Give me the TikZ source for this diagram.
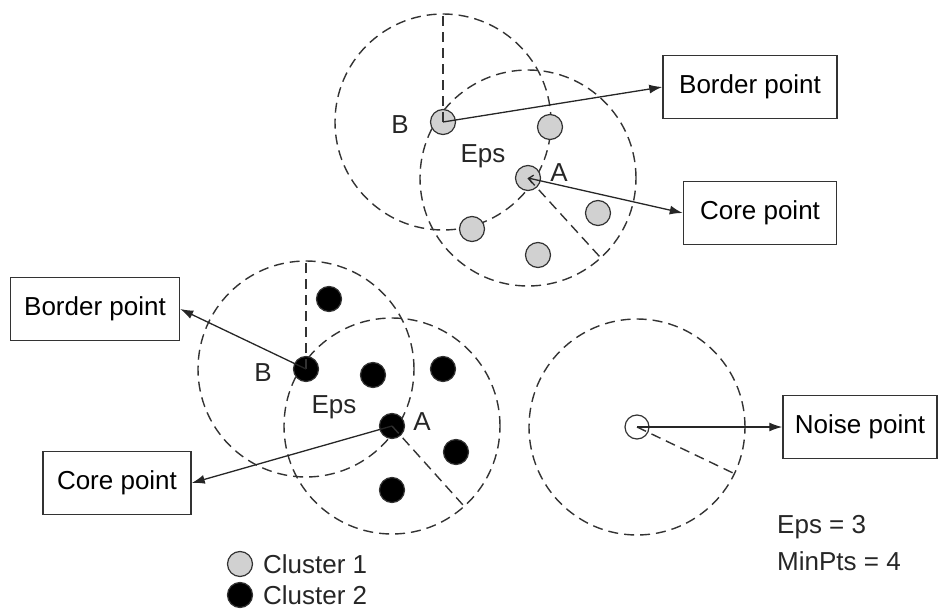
\documentclass[tikz,border=0pt]{standalone}
\usepackage{fontspec}
\setmainfont{Liberation Sans}
\usetikzlibrary{arrows.meta}

\begin{document}
\begin{tikzpicture}[x=1pt,y=-1pt,
	pt/.style={circle,draw=black!80,line width=1.2pt,inner sep=0pt,minimum size=25pt},
	grey/.style={pt,fill=black!18},
	blk/.style={pt,fill=black},
	box/.style={draw=black!80,line width=1.5pt,font=\fontsize{26}{30}\selectfont,minimum height=63pt,inner sep=0pt},
	txt/.style={font=\fontsize{26}{30}\selectfont,inner sep=0pt,text=black!85},
	eps/.style={draw=black!80,dash pattern=on 10pt off 6pt,line width=1.4pt},
	arr/.style={draw=black!85,-{Latex[length=13pt,width=9pt]},line width=1.3pt}]
	\useasboundingbox (0,0) rectangle (938,610);

	\coordinate (ctB) at (443,122);
	\coordinate (ctA) at (528,178);
	\coordinate (cbB) at (306,369);
	\coordinate (cbA) at (392,426);
	\coordinate (cn) at (637,427);
	\foreach \c in {ctB,ctA,cbB,cbA,cn}
		\draw[eps] (\c) circle[radius=108pt];

	% top cluster
	\node[grey] (tB) at (ctB) {};
	\node[grey] (tA) at (ctA) {};
	\foreach \x/\y [count=\i] in {550/127,598/213,472/229,538/255}
		\node[grey] (t\i) at (\x,\y) {};
	\draw[eps] (tB.center) -- ++(0,-108);
	\draw[eps] (tA.center) -- ++(72,79);
	\node[txt] (tBl) at (400,125) {B};
	\node[txt] (tAl) at (559,173) {A};
	\node[txt] (tEps) at (483,156) {Eps};
	\node[box,minimum width=174pt] (tBorder) at (750,87) {Border point};
	\node[box,minimum width=153pt] (tCore) at (760,213) {Core point};
	\draw[arr] (tB.center) -- (tBorder.west);
	\draw[arr,{Straight Barb[length=4pt,width=8pt]}-{Latex[length=13pt,width=9pt]}] (tA.center) -- (tCore.west);

	% bottom cluster
	\node[blk] (bB) at (cbB) {};
	\node[blk] (bA) at (cbA) {};
	\foreach \x/\y [count=\i] in {329/299,373/375,443/369,456/452,392/490}
		\node[blk] (b\i) at (\x,\y) {};
	\draw[eps] (bB.center) -- ++(0,-108);
	\draw[eps] (bA.center) -- ++(71,79);
	\node[txt] (bBl) at (263,373) {B};
	\node[txt] (bAl) at (422,422) {A};
	\node[txt] (bEps) at (334,407) {Eps};
	\node[box,minimum width=169pt] (bBorder) at (95,309) {Border point};
	\node[box,minimum width=148pt] (bCore) at (117,483) {Core point};
	\draw[arr] (bB.center) -- (bBorder.east);
	\draw[arr] (bA.center) -- (bCore.east);

	% noise
	\node[pt,minimum size=24pt,fill=white] (noise) at (cn) {};
	\draw[eps] (noise.center) -- ++(96,46);
	\node[box,minimum width=154pt] (nBox) at (860,427) {Noise point};
	\draw[arr] (noise.center) -- (nBox.west);

	\node[txt,anchor=west] (epsv) at (777,527) {Eps = 3};
	\node[txt,anchor=west] (minpts) at (777,561) {MinPts = 4};

	% legend
	\node[grey] (l1) at (240,564) {};
	\node[blk] (l2) at (240,595) {};
	\node[txt,anchor=west] (l1t) at (263,564) {Cluster 1};
	\node[txt,anchor=west] (l2t) at (263,595) {Cluster 2};
\end{tikzpicture}
\end{document}
